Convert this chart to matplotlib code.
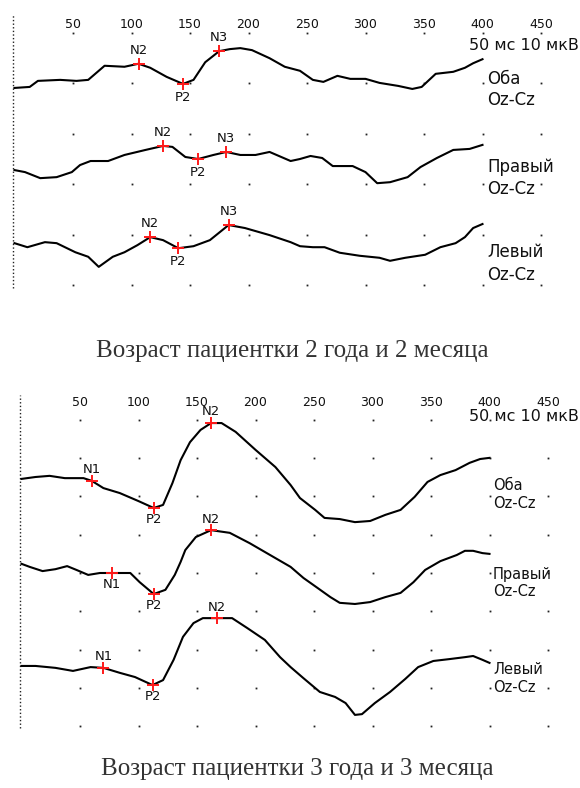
import matplotlib.pyplot as plt
import numpy as np

W, H = 580, 788

tick_ms = [50, 100, 150, 200, 250, 300, 350, 400, 450]
eye_names = ["Оба", "Правый", "Левый"]
lead_name = "Oz-Cz"
scale_text = "50 мс 10 мкВ"
captions = ["Возраст пациентки 2 года и 2 месяца",
            "Возраст пациентки 3 года и 3 месяца"]

# --- age 2 y 2 m: latency (ms) and amplitude (uV, relative to trace baseline)
a_both_ms = [0, 13, 20, 39, 53, 63, 77, 94, 106, 116, 130, 144, 153, 163, 175, 184, 193, 203, 218, 231,
             244, 255, 264, 276, 287, 300, 312, 328, 340, 348, 360, 375, 385, 392, 400]
a_both_uv = [-0.9, -0.7, 0.5, 0.7, 0.5, 0.7, 3.5, 3.3, 3.9, 3.1, 1.3, -0.1, 0.7, 4.2, 6.4, 6.8, 7.0, 6.6, 5.0, 3.3,
             2.5, 0.7, 0.3, 1.5, 0.9, 0.9, 0.1, -0.5, -1.1, -0.7, 1.9, 2.3, 3.1, 4.0, 4.8]
a_right_ms = [0, 9, 22, 36, 49, 56, 65, 80, 94, 112, 127, 135, 146, 157, 170, 181, 193, 206, 218, 236,
              244, 253, 263, 272, 289, 300, 310, 321, 336, 347, 361, 375, 389, 400]
a_right_uv = [2.8, 2.4, 1.2, 1.4, 2.4, 3.8, 4.6, 4.6, 5.8, 6.8, 7.6, 7.4, 5.4, 5.0, 5.8, 6.4, 5.8, 5.8, 6.4, 4.6,
              5.0, 5.6, 5.2, 3.6, 3.6, 2.4, 0.2, 0.4, 1.4, 3.4, 5.2, 6.8, 7.0, 7.8]
a_left_ms = [0, 11, 26, 36, 52, 63, 72, 84, 94, 105, 116, 127, 140, 153, 167, 183, 197, 218, 236, 244,
             255, 265, 278, 295, 312, 321, 334, 351, 364, 377, 385, 392, 400]
a_left_uv = [-1.7, -2.5, -1.5, -1.7, -3.5, -4.4, -6.4, -4.4, -3.5, -2.1, -0.5, -1.1, -2.7, -2.3, -1.1, 1.9, 1.3, -0.1, -1.5, -2.3,
             -2.5, -2.5, -3.6, -4.2, -4.6, -5.2, -4.6, -4.0, -2.5, -1.7, -0.5, 1.3, 2.1]
a_peaks = ["N2", "P2", "N3"]
a_both_peak_ms = [106, 144, 175]
a_right_peak_ms = [127, 157, 181]
a_left_peak_ms = [116, 140, 183]

# --- age 3 y 3 m
b_both_ms = [0, 12, 24, 37, 53, 60, 70, 84, 100, 113, 121, 129, 136, 144, 153, 162, 171, 183, 200, 217,
             230, 238, 251, 259, 272, 285, 298, 311, 324, 336, 347, 358, 371, 383, 392, 400]
b_both_uv = [4.6, 5.1, 5.4, 4.8, 4.8, 4.1, 2.2, 0.9, -1.2, -3.0, -2.2, 3.5, 9.5, 14.2, 17.4, 19.2, 19.2, 16.9, 12.2, 7.7,
             3.0, -0.4, -3.5, -5.6, -5.9, -6.7, -6.4, -4.8, -3.5, -0.1, 3.8, 5.6, 6.9, 8.8, 9.8, 10.1]
b_right_ms = [0, 7, 18, 29, 39, 47, 57, 67, 77, 93, 101, 113, 123, 131, 136, 140, 149, 162, 178, 195,
              217, 230, 241, 253, 264, 272, 285, 298, 311, 324, 335, 345, 358, 372, 379, 386, 394, 400]
b_right_uv = [2.4, 1.6, 0.5, 1.0, 1.8, 0.8, -0.5, 0.0, 0.0, 0.0, -2.4, -5.5, -4.4, -0.5, 2.9, 6.0, 9.4, 11.2, 10.5, 7.8,
              3.9, 1.6, -1.3, -3.9, -6.3, -7.8, -8.1, -7.6, -6.3, -5.2, -2.4, 0.8, 3.1, 4.7, 5.8, 5.8, 5.2, 5.0]
b_left_ms = [0, 12, 29, 44, 59, 70, 84, 97, 112, 121, 130, 138, 147, 155, 167, 180, 193, 208, 221, 230,
             241, 255, 268, 277, 285, 291, 302, 315, 328, 339, 352, 366, 379, 386, 394, 400]
b_left_uv = [0.7, 0.7, 0.2, -0.6, 0.4, 0.2, -1.1, -2.2, -4.3, -3.0, 2.3, 8.3, 11.9, 13.2, 13.2, 13.2, 10.6, 7.5, 3.0, 0.4,
             -2.5, -6.1, -7.4, -9.0, -12.1, -11.9, -9.0, -6.1, -2.7, 0.4, 2.0, 2.5, 3.0, 3.3, 2.3, 1.5]
b_peaks = ["N1", "P2", "N2"]
b_both_peak_ms = [60, 113, 162]
b_right_peak_ms = [77, 113, 162]
b_left_peak_ms = [70, 112, 167]


def make_panel(fig, py_top, py_bot, x0, kx, y0, ky):
    # axes covering a pixel band of the figure; kx px per ms, ky px per uV
    ax = fig.add_axes([0, 1 - py_bot / H, 1, (py_bot - py_top) / H])
    ax.set_xlim(-x0 / kx, (W - x0) / kx)
    ax.set_ylim((y0 - py_bot) / ky, (y0 - py_top) / ky)
    ax.axis("off")
    return ax


def draw_grid(ax, n_rows, line_top, label_y):
    gx, gy = np.meshgrid(tick_ms, np.arange(n_rows) * 10)
    ax.plot(gx.ravel(), gy.ravel(), ls="none", marker="s", ms=1.3, mew=0, color="#222222")
    ax.plot([-1.5, -1.5], [-0.6, line_top], color="#222222", lw=1.0, ls=(0, (1, 1.6)))
    for t in tick_ms:
        ax.text(t, label_y, str(t), ha="center", va="center", fontsize=9, color="#111111")


def draw_trace(ax, ms, uv, offset, peaks, peak_ms, below, off_pt):
    y = np.array(uv) + offset
    ax.plot(ms, y, color="black", lw=1.5, solid_joinstyle="round", zorder=3)
    for name, pm, dn in zip(peaks, peak_ms, below):
        py = np.interp(pm, ms, y)
        ax.plot(pm, py, marker="+", ms=9, mew=1.4, color="#ff1a1a", zorder=4)
        dy = -off_pt if dn else off_pt
        ax.annotate(name, (pm, py), xytext=(0, dy), textcoords="offset points",
                    ha="center", va="center", fontsize=9.5, color="#111111")


def fig_text(px, py, s, **kw):
    fig.text(px / W, 1 - py / H, s, **kw)


fig = plt.figure(figsize=(W / 100, H / 100), dpi=100)
fig.patch.set_facecolor("white")

# upper panel
ax1 = make_panel(fig, 0, 330, 14.5, 1.17, 285, 5.04)
draw_grid(ax1, 6, 53.6, 51.6)
draw_trace(ax1, a_both_ms, a_both_uv, 40, a_peaks, a_both_peak_ms, [0, 1, 0], 9.5)
draw_trace(ax1, a_right_ms, a_right_uv, 20, a_peaks, a_right_peak_ms, [0, 1, 0], 9.5)
draw_trace(ax1, a_left_ms, a_left_uv, 10, a_peaks, a_left_peak_ms, [0, 1, 0], 9.5)

# lower panel
ax2 = make_panel(fig, 370, 745, 21.5, 1.17, 726, 3.825)
draw_grid(ax2, 9, 86.5, 84.7)
draw_trace(ax2, b_both_ms, b_both_uv, 60, b_peaks, b_both_peak_ms, [0, 1, 0], 8)
draw_trace(ax2, b_right_ms, b_right_uv, 40, b_peaks, b_right_peak_ms, [1, 1, 0], 8)
draw_trace(ax2, b_left_ms, b_left_uv, 15, b_peaks, b_left_peak_ms, [0, 1, 0], 8)

fig_text(579, 46, scale_text, fontsize=11.5, color="#111111", va="center", ha="right")
fig_text(579, 417, scale_text, fontsize=11.5, color="#111111", va="center", ha="right")
lab = dict(fontsize=12, color="#111111", va="center", ha="left")
for (py_name, py_lead), name in zip([(79, 100), (167, 189), (252, 275)], eye_names):
    fig_text(487, py_name, name, **lab)
    fig_text(487, py_lead, lead_name, **lab)
lab_small = dict(fontsize=10.5, color="#111111", va="center", ha="left")
for (py_name, py_lead), name in zip([(485, 503), (574, 592), (670, 688)], eye_names):
    fig_text(493, py_name, name, **lab_small)
    fig_text(493, py_lead, lead_name, **lab_small)

cap = dict(fontsize=18, color="#333333", ha="center", va="center", family="Liberation Serif")
fig_text(292, 351, captions[0], **cap)
fig_text(297, 769, captions[1], **cap)

fig.savefig("out.png", dpi=100, facecolor="white")
